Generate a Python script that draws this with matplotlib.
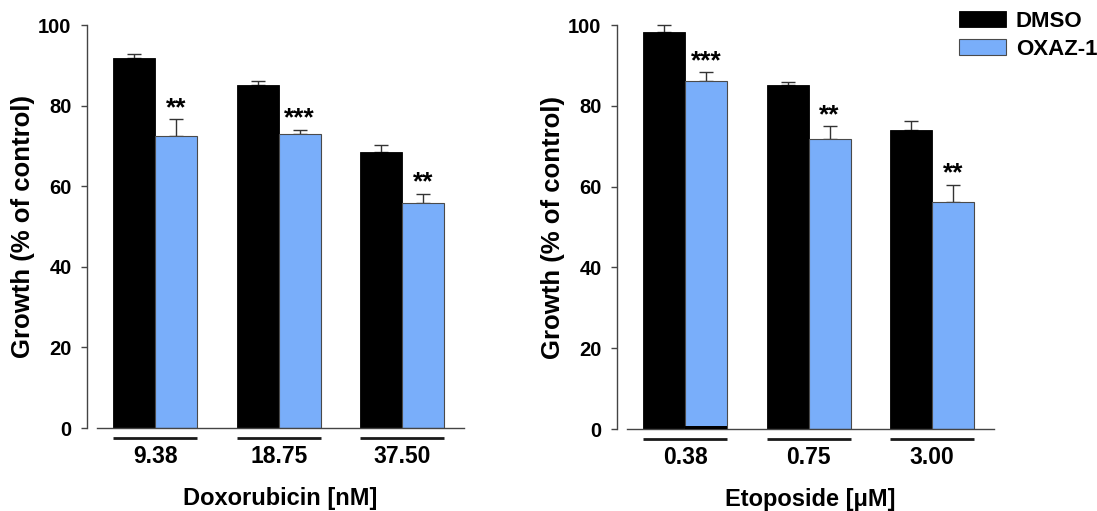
import numpy as np
import matplotlib
matplotlib.use('Agg')
import matplotlib.pyplot as plt
from matplotlib import transforms

plt.rcParams['font.family'] = ['Liberation Sans', 'DejaVu Sans']
plt.rcParams['font.weight'] = 'bold'

# Data (growth, % of control; upward SEM bars).
groups = ['DMSO', 'OXAZ-1']

dox_labels = ['9.38', '18.75', '37.50']
dox_dmso = [91.7, 85.1, 68.6]
dox_dmso_err = [1.1, 1.0, 1.6]
dox_oxaz = [72.5, 72.9, 55.8]
dox_oxaz_err = [4.1, 1.0, 2.3]
dox_stars = ['**', '***', '**']

eto_labels = ['0.38', '0.75', '3.00']
eto_dmso = [98.3, 85.1, 73.9]
eto_dmso_err = [1.7, 0.9, 2.4]
eto_oxaz = [86.1, 71.9, 56.3]
eto_oxaz_err = [2.2, 3.0, 4.2]
eto_stars = ['***', '**', '**']
eto_oxaz_strip = [0.8, 0.0, 0.0]  # thin dark strip at the base of the first blue bar

BLUE = '#79aefa'
EDGE = '#4a4a4a'


def draw_panel(ax, labels, dmso, dmso_err, oxaz, oxaz_err, stars, xlabel, strip=None):
    x = np.arange(len(labels))
    w = 0.34
    ax.bar(x - w / 2, dmso, w, color='black', edgecolor='black', linewidth=0.6,
           label=groups[0], zorder=2)
    ax.bar(x + w / 2, oxaz, w, color=BLUE, edgecolor=EDGE, linewidth=0.8,
           label=groups[1], zorder=2)
    if strip is not None:
        ax.bar(x + w / 2, strip, w, color='black', linewidth=0, zorder=3)
    z = np.zeros(len(labels))
    ax.errorbar(x - w / 2, dmso, yerr=[z, dmso_err], fmt='none', ecolor='#333333',
                elinewidth=1.0, capsize=5.2, capthick=1.0, zorder=1, clip_on=False)
    ax.errorbar(x + w / 2, oxaz, yerr=[z, oxaz_err], fmt='none', ecolor='#333333',
                elinewidth=1.0, capsize=5.2, capthick=1.0, zorder=1, clip_on=False)
    for xi, m, e, s in zip(x, oxaz, oxaz_err, stars):
        ax.text(xi + w / 2, m + e + 1.1, s, ha='center', va='baseline',
                fontsize=19, fontweight='bold')

    # group underlines
    trans = transforms.blended_transform_factory(ax.transData, ax.transAxes)
    for xi in x:
        ax.plot([xi - w, xi + w], [-0.024, -0.024], color='#1a1a1a', lw=2.0,
                transform=trans, clip_on=False, solid_capstyle='butt')

    ax.set_xlim(-0.47, 2.5)
    ax.set_ylim(0, 100)
    ax.set_yticks(np.arange(0, 101, 20))
    ax.set_xticks(x)
    ax.set_xticklabels(labels, fontsize=16.5, fontweight='bold')
    ax.tick_params(axis='x', length=0, pad=12.5)
    ax.tick_params(axis='y', direction='out', length=4.3, width=1.0, color='#444444',
                   pad=7, labelsize=14.5)
    for t in ax.get_yticklabels():
        t.set_fontweight('bold')

    ax.spines['top'].set_visible(False)
    ax.spines['right'].set_visible(False)
    ax.spines['left'].set_position(('outward', 7))
    ax.spines['left'].set_color('#444444')
    ax.spines['bottom'].set_color('#444444')
    ax.spines['left'].set_linewidth(1.0)
    ax.spines['bottom'].set_linewidth(1.0)

    ax.set_ylabel('Growth (% of control)', fontsize=18.5, fontweight='bold')
    ax.set_xlabel(xlabel, fontsize=17, fontweight='bold')
    ax.yaxis.set_label_coords(-0.168, 0.5)
    ax.xaxis.set_label_coords(0.5, -0.146)


fig = plt.figure(figsize=(10.97, 5.11), dpi=100)
ax1 = fig.add_axes([97 / 1097, 83 / 511, 367 / 1097, 403 / 511])
ax2 = fig.add_axes([627 / 1097, 82 / 511, 367 / 1097, 404 / 511])

draw_panel(ax1, dox_labels, dox_dmso, dox_dmso_err, dox_oxaz, dox_oxaz_err,
           dox_stars, 'Doxorubicin [nM]')
draw_panel(ax2, eto_labels, eto_dmso, eto_dmso_err, eto_oxaz, eto_oxaz_err,
           eto_stars, 'Etoposide [\u03bcM]', strip=eto_oxaz_strip)

handles, lbls = ax2.get_legend_handles_labels()
fig.legend(handles[:2], lbls[:2], loc='upper left', bbox_to_anchor=(959 / 1097, 1 - 11 / 511),
           frameon=False, borderpad=0, borderaxespad=0, handlelength=2.1,
           handleheight=0.75, handletextpad=0.45, labelspacing=0.3,
           prop={'size': 16, 'weight': 'bold'})

fig.savefig('out.png', dpi=100)
